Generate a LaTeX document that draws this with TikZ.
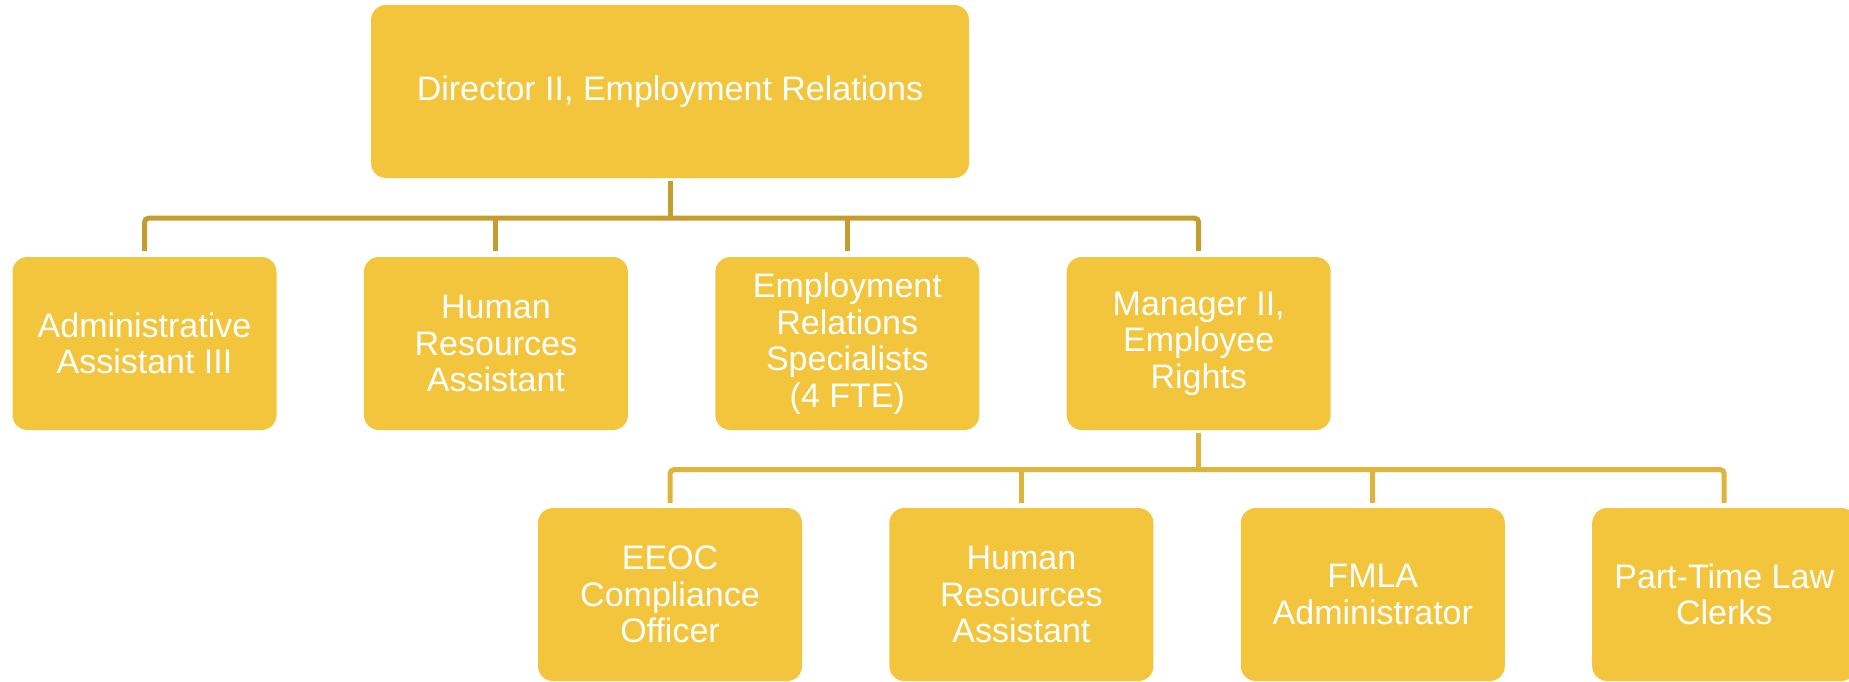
\documentclass[tikz,border=0pt]{standalone}
\usepackage{fontspec}
\setmainfont{Liberation Sans}
\usepackage{xcolor}
\usetikzlibrary{positioning}

\definecolor{boxgold}{HTML}{F3C53D}
\definecolor{topline}{HTML}{C59D2F}
\definecolor{lowline}{HTML}{DEB53A}

\tikzset{
    post/.style={fill=boxgold, draw=none, rounded corners=15pt, minimum width=264pt, minimum height=173pt,
        inner sep=0pt, align=center, text=white, font=\fontsize{34}{36.5}\selectfont},
    linka/.style={draw=topline, line width=5pt},
    linkb/.style={draw=lowline, line width=5pt}
}

\begin{document}
\begin{tikzpicture}[x=1pt, y=-1pt]
                \useasboundingbox (0,0) rectangle (1849,682);

                % Director
                \node[post, minimum width=598pt] (dir) at (670, 91.5) {Director II, Employment Relations};

                % Second row
                \node[post] (admin) at (144.5, 343.5) {Administrative\\Assistant III};
                \node[post, right=87pt of admin] (hra) {Human\\Resources\\Assistant};
                \node[post, right=87pt of hra] (ers) {Employment\\Relations\\Specialists\\(4 FTE)};
                \node[post, right=87pt of ers] (mgr) {Manager II,\\Employee\\Rights};

                % Third row
                \node[post] (eeoc) at (670, 594.5) {EEOC\\Compliance\\Officer};
                \node[post, right=87pt of eeoc] (hrb) {Human\\Resources\\Assistant};
                \node[post, right=87pt of hrb] (fmla) {FMLA\\Administrator};
                \node[post, right=87pt of fmla] (clerks) {Part-Time Law\\Clerks};

                % Links from director
                \draw[linka] ([yshift=-3pt]dir.south) -- ++(0,-37pt) coordinate (busa);
                \draw[linka, rounded corners=4pt] ([yshift=6pt]admin.north) |- (busa) -| ([yshift=6pt]mgr.north);
                \draw[linka] (busa -| hra.north) -- ([yshift=6pt]hra.north);
                \draw[linka] (busa -| ers.north) -- ([yshift=6pt]ers.north);

                % Links from manager
                \draw[linkb] ([yshift=-3pt]mgr.south) -- ++(0,-36.5pt) coordinate (busb);
                \draw[linkb, rounded corners=4pt] ([yshift=5pt]eeoc.north) |- (busb) -| ([yshift=5pt]clerks.north);
                \draw[linkb] (busb -| hrb.north) -- ([yshift=5pt]hrb.north);
                \draw[linkb] (busb -| fmla.north) -- ([yshift=5pt]fmla.north);
            \end{tikzpicture}
\end{document}
